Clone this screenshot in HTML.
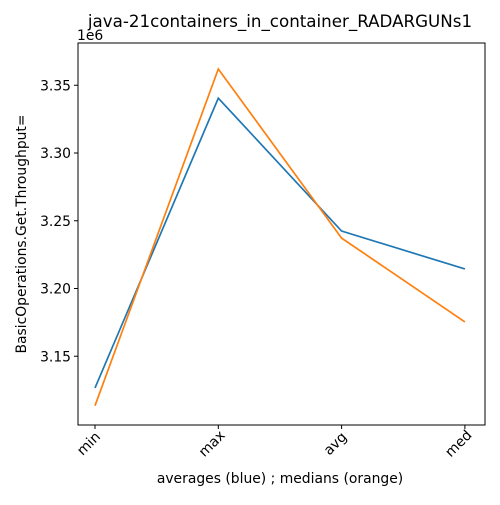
<!DOCTYPE html>
<html><head><meta charset="utf-8"><style>body{margin:0;background:#fff}svg{font-family:"DejaVu Sans","Liberation Sans",sans-serif}</style></head>
<body>
<svg id="chart" width="500" height="500">
<rect width="500" height="500" fill="#fff"/>
<text x="280" y="27" font-size="16.7" text-anchor="middle">java-21containers_in_container_RADARGUNs1</text>
<text x="77" y="40" font-size="13.9">1e6</text>
<text x="280" y="483" font-size="13.9" text-anchor="middle">averages (blue) ; medians (orange)</text>
<text transform="translate(26,234) rotate(-90)" font-size="13.9" text-anchor="middle">BasicOperations.Get.Throughput=</text>
<g id="ticks"></g><g id="lines"></g>
<rect x="78" y="43" width="407" height="382" fill="none" stroke="#000" stroke-width="1"/>
</svg>
<script>
const categories=["min","max","avg","med"];
const averages=[3.1266,3.3405,3.2424,3.2144];
const medians=[3.1135,3.3620,3.2372,3.1753];
const yTicks=[3.15,3.20,3.25,3.30,3.35];
const NS="http://www.w3.org/2000/svg";
function xS(i){return 95+i*123.3;}
function yS(v){return 424-(v-3.10)/0.05*67.75;}
const tg=document.getElementById('ticks'),lg=document.getElementById('lines');
function mk(tag,attrs,parent){const e=document.createElementNS(NS,tag);for(const k in attrs)e.setAttribute(k,attrs[k]);parent.appendChild(e);return e;}
yTicks.forEach(v=>{const y=yS(v);
 const l=mk('line',{x1:74,x2:78,y1:y,y2:y,stroke:'#000'},tg);
 
 
 const t=mk('text',{x:71,y:y+5,'font-size':13.9,'text-anchor':'end'},tg);t.textContent=v.toFixed(2);
 
 });
categories.forEach((c,i)=>{const x=xS(i);
 const l=mk('line',{x1:x,x2:x,y1:425,y2:429,stroke:'#000'},tg);
 
 
 const t=mk('text',{transform:`translate(${x-6},${444}) rotate(-45)`,'font-size':13.9,'text-anchor':'middle','dominant-baseline':'middle'},tg);t.textContent=c;
 
 });
[[averages,'#1f77b4','averages-line'],[medians,'#ff7f0e','medians-line']].forEach(([d,col,n])=>{
 const p=mk('polyline',{points:d.map((v,i)=>xS(i)+','+yS(v)).join(' '),fill:'none',stroke:col,'stroke-width':1.7},lg);
 
 });
</script>
</body></html>
